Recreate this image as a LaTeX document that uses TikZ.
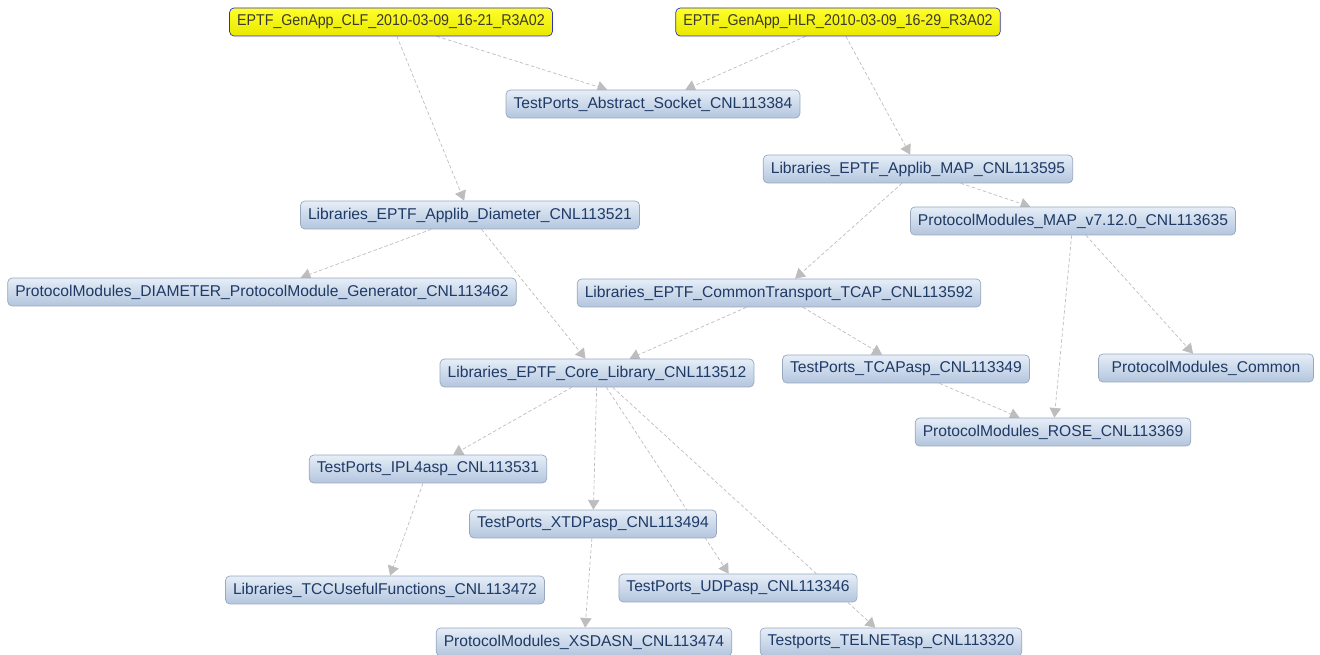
\documentclass[tikz,border=0pt]{standalone}
\usepackage{fontspec}
\setmainfont{Liberation Sans}
\newfontfamily\appfont[FakeStretch=0.91]{Liberation Sans}
\usetikzlibrary{arrows.meta,backgrounds}

\definecolor{modtop}{HTML}{E6EEF8}
\definecolor{modbot}{HTML}{B3C5DD}
\definecolor{modline}{HTML}{97A8BE}
\definecolor{modtext}{HTML}{1E3A66}
\definecolor{apptop}{HTML}{FFFF2A}
\definecolor{appbot}{HTML}{E8E800}
\definecolor{appline}{HTML}{2F2FC8}
\definecolor{deplink}{HTML}{BDBDBD}

\begin{document}
\begin{tikzpicture}[
    x=0.02cm, y=-0.02cm,
    font=\fontsize{8.9}{10}\selectfont,
    mod/.style={draw=modline, rounded corners=2.5pt, top color=modtop, bottom color=modbot,
                text=modtext, minimum height=0.56cm, inner xsep=4.3pt, inner ysep=0pt},
    app/.style={mod, draw=appline, top color=apptop, bottom color=appbot, text=black!75!olive,
                font=\appfont\fontsize{8.9}{10}\selectfont},
    dep/.style={draw=deplink, dash pattern=on 2pt off 1.3pt, thin,
                -{Triangle[length=5.5pt, width=6.5pt, color=deplink, fill=deplink]}}]

    \useasboundingbox (0,0) rectangle (1320,655);

    % auslieferungen
    \node[app] (clf) at (391,22) {EPTF\_GenApp\_CLF\_2010-03-09\_16-21\_R3A02};
    \node[app] (hlr) at (838,22) {EPTF\_GenApp\_HLR\_2010-03-09\_16-29\_R3A02};

    % bibliotheken und module
    \node[mod] (socket) at (653,104) {TestPorts\_Abstract\_Socket\_CNL113384};
    \node[mod] (maplib) at (918,169) {Libraries\_EPTF\_Applib\_MAP\_CNL113595};
    \node[mod] (diamlib) at (470,215) {Libraries\_EPTF\_Applib\_Diameter\_CNL113521};
    \node[mod] (mapmod) at (1073,221) {ProtocolModules\_MAP\_v7.12.0\_CNL113635};
    \node[mod] (diamgen) at (262,292) {ProtocolModules\_DIAMETER\_ProtocolModule\_Generator\_CNL113462};
    \node[mod] (tcap) at (779,293) {Libraries\_EPTF\_CommonTransport\_TCAP\_CNL113592};
    \node[mod] (core) at (597,373) {Libraries\_EPTF\_Core\_Library\_CNL113512};
    \node[mod] (tcapasp) at (906,369) {TestPorts\_TCAPasp\_CNL113349};
    \node[mod, minimum width=4.3cm] (common) at (1206,368) {ProtocolModules\_Common};
    \node[mod] (rose) at (1053,432) {ProtocolModules\_ROSE\_CNL113369};
    \node[mod] (ipl4) at (428,469) {TestPorts\_IPL4asp\_CNL113531};
    \node[mod] (xtdp) at (593,524) {TestPorts\_XTDPasp\_CNL113494};
    \node[mod] (tccuf) at (385,590) {Libraries\_TCCUsefulFunctions\_CNL113472};
    \node[mod] (udp) at (738,588) {TestPorts\_UDPasp\_CNL113346};
    \node[mod] (xsdasn) at (584,642) {ProtocolModules\_XSDASN\_CNL113474};
    \node[mod] (telnet) at (891,642) {Testports\_TELNETasp\_CNL113320};

    % abhaengigkeiten
    \begin{scope}[on background layer]
        \draw[dep] (clf) -- (socket);
        \draw[dep] (clf) -- (diamlib);
        \draw[dep] (hlr) -- (socket);
        \draw[dep] (hlr) -- (maplib);
        \draw[dep] (maplib) -- (mapmod);
        \draw[dep] (maplib) -- (tcap);
        \draw[dep] (diamlib) -- (diamgen);
        \draw[dep] (diamlib) -- (core);
        \draw[dep] (tcap) -- (core);
        \draw[dep] (tcap) -- (tcapasp);
        \draw[dep] (mapmod) -- (rose);
        \draw[dep] (mapmod) -- (common);
        \draw[dep] (tcapasp) -- (rose);
        \draw[dep] (core) -- (ipl4);
        \draw[dep] (core) -- (xtdp);
        \draw[dep] (core) -- (udp);
        \draw[dep] (core) -- (telnet);
        \draw[dep] (ipl4) -- (tccuf);
        \draw[dep] (xtdp) -- (xsdasn);
    \end{scope}
\end{tikzpicture}
\end{document}
